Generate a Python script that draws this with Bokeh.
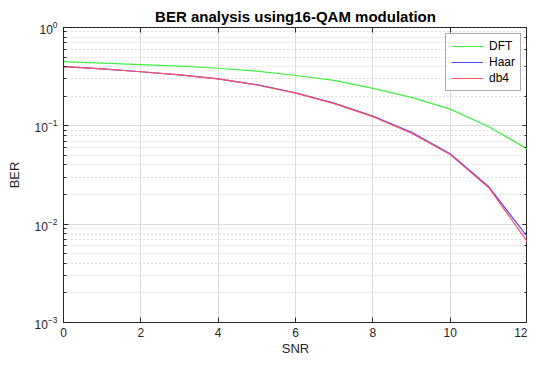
from bokeh.plotting import figure
from bokeh.models import LogAxis, LinearAxis, Legend, LegendItem, Range1d, FixedTicker, CustomJSTickFormatter
from bokeh.embed import file_html
from bokeh.resources import INLINE

snr = [0, 1, 2, 3, 4, 5, 6, 7, 8, 9, 10, 11, 12]
ber_dft = [0.45, 0.435, 0.42, 0.405, 0.385, 0.36, 0.325, 0.29, 0.24, 0.195, 0.148, 0.098, 0.058]
ber_haar = [0.40, 0.38, 0.355, 0.33, 0.30, 0.262, 0.217, 0.17, 0.126, 0.086, 0.052, 0.024, 0.0074]
ber_db4 = [0.40, 0.38, 0.355, 0.33, 0.30, 0.26, 0.215, 0.168, 0.124, 0.084, 0.051, 0.0235, 0.0066]
x_ticks = [0, 2, 4, 6, 8, 10, 12]

FONT = "Liberation Sans"
AX = "#262626"

p = figure(width=527, height=358, y_axis_type="log",
           x_range=Range1d(0, 12), y_range=Range1d(1e-3, 1e0),
           output_backend="svg", toolbar_location=None,
           min_border_left=63, min_border_right=0, min_border_top=27, min_border_bottom=34)

p.title.text = "BER analysis using16-QAM modulation"
p.title.align = "center"
p.title.text_font = FONT
p.title.text_font_size = "15px"
p.title.text_font_style = "bold"
p.title.text_color = "#000000"
p.title.standoff = 6

p.outline_line_color = AX
p.outline_line_width = 1
p.outline_line_alpha = 1

for ax in (p.xaxis[0], p.yaxis[0]):
    ax.axis_line_color = AX
    ax.major_tick_line_color = AX
    ax.minor_tick_line_color = AX
    ax.major_tick_in = 5
    ax.major_tick_out = 0
    ax.minor_tick_in = 3
    ax.minor_tick_out = 0
    ax.major_label_text_font = FONT
    ax.major_label_text_font_size = "12px"
    ax.major_label_text_color = AX
    ax.axis_label_text_font = FONT
    ax.axis_label_text_font_size = "13px"
    ax.axis_label_text_font_style = "normal"
    ax.axis_label_text_color = AX

p.xaxis.ticker = FixedTicker(ticks=x_ticks)
p.xaxis.axis_label = "SNR"
p.xaxis.axis_label_standoff = 1
p.xaxis.major_label_standoff = 5
p.yaxis.axis_label = "BER"
p.yaxis.axis_label_standoff = 10
p.yaxis.major_label_standoff = 6

ra = LogAxis(formatter=CustomJSTickFormatter(code="return ''"), axis_line_color=AX,
             major_tick_line_color=AX, minor_tick_line_color=AX,
             major_tick_in=5, major_tick_out=0, minor_tick_in=3, minor_tick_out=0,
             major_label_standoff=0)
p.add_layout(ra, "right")
ta = LinearAxis(formatter=CustomJSTickFormatter(code="return ''"), axis_line_color=AX,
                major_tick_line_color=AX, minor_tick_line_color=None,
                major_tick_in=5, major_tick_out=0, ticker=FixedTicker(ticks=x_ticks),
                major_label_standoff=0)
p.add_layout(ta, "above")

p.xgrid.ticker = FixedTicker(ticks=x_ticks)
p.xgrid.grid_line_color = "#dcdcdc"
p.ygrid.grid_line_color = "#dcdcdc"
p.ygrid.minor_grid_line_color = "#c0c0c0"
p.ygrid.minor_grid_line_dash = "1 3"

r1 = p.line(snr, ber_dft, line_color="#40f040", line_width=1.2)
r2 = p.line(snr, ber_haar, line_color="#4848ff", line_width=1.2)
r3 = p.line(snr, ber_db4, line_color="#ff5060", line_width=1.2)

legend = Legend(items=[LegendItem(label="DFT", renderers=[r1]),
                       LegendItem(label="Haar", renderers=[r2]),
                       LegendItem(label="db4", renderers=[r3])],
                location="top_right")
legend.label_text_font = FONT
legend.label_text_font_size = "12px"
legend.label_text_color = "#000000"
legend.border_line_color = "#555555"
legend.background_fill_alpha = 1
legend.margin = 6
legend.padding = 5
legend.spacing = 2
legend.glyph_width = 32
legend.label_height = 14
legend.glyph_height = 14
legend.label_standoff = 6
p.add_layout(legend)

open("out.html", "w").write(file_html(p, INLINE))
